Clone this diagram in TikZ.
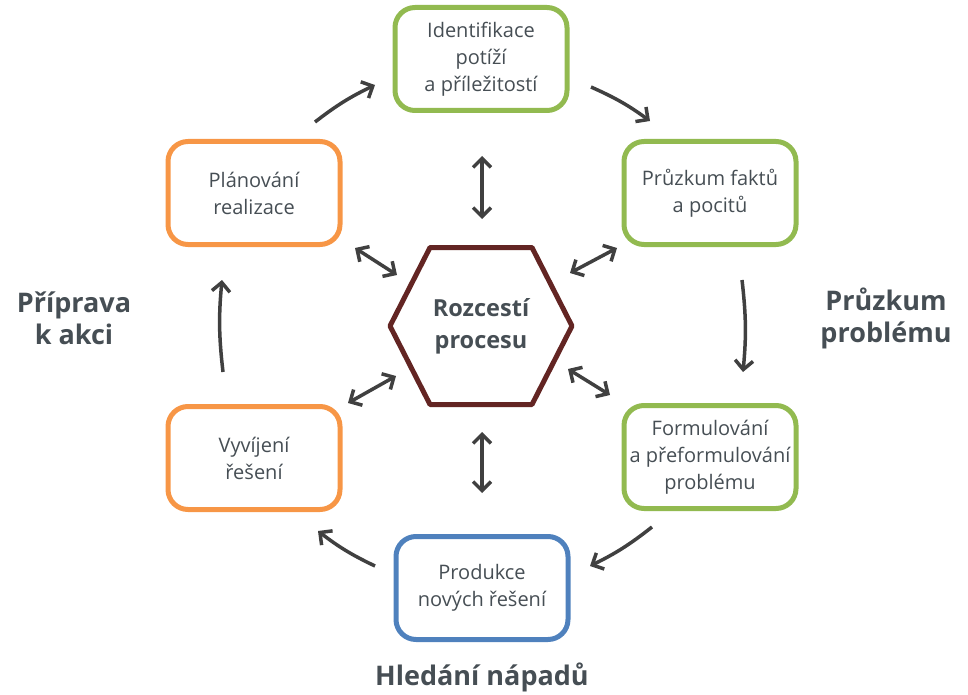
\documentclass[tikz,border=0pt]{standalone}
\usepackage{fontspec}
\setmainfont{Open Sans}
\usetikzlibrary{arrows.meta}
\definecolor{boxgreen}{RGB}{146,186,80}
\definecolor{boxorange}{RGB}{247,150,70}
\definecolor{boxblue}{RGB}{79,129,189}
\definecolor{hexred}{RGB}{99,37,35}
\definecolor{txtgray}{RGB}{70,78,84}
\definecolor{arrgray}{RGB}{64,64,64}

\begin{document}
\begin{tikzpicture}[x=1pt,y=-1pt,
  stage/.style={draw=#1,line width=5pt,rounded corners=20pt,minimum width=172pt,
    minimum height=103pt,inner sep=0pt,outer sep=0pt,align=center,text=txtgray,
    font=\fontsize{20}{27}\selectfont},
  phase/.style={text=txtgray,align=center,font=\fontsize{27}{32}\selectfont\bfseries},
  cyc/.style={draw=arrgray,line width=3.5pt,-{Straight Barb[length=9pt,width=18pt]}},
  link/.style={draw=arrgray,line width=3.5pt,{Straight Barb[length=9pt,width=18pt]}-{Straight Barb[length=9pt,width=18pt]}}]
\useasboundingbox (0,0) rectangle (968,695);
\node[stage=boxgreen] (ident) at (481,59) {Identifikace\\potíží\\a příležitostí};
\node[stage=boxgreen] (fakty) at (710,193) {Průzkum faktů\\a pocitů};
\node[stage=boxgreen] (formul) at (710,457) {Formulování\\a přeformulování\\problému};
\node[stage=boxblue] (produkce) at (482,588) {Produkce\\nových řešení};
\node[stage=boxorange] (vyvij) at (254,458) {Vyvíjení\\řešení};
\node[stage=boxorange] (plan) at (254,193) {Plánování\\realizace};
% rozcesti
\node[minimum width=182pt,minimum height=157pt,inner sep=0pt,outer sep=0pt,align=center,
  text=txtgray,font=\fontsize{23.5}{32}\selectfont\bfseries] (hub) at (481,326) {Rozcestí\\procesu};
\draw[hexred,line width=5pt,line join=round] (hub.west) -- ([xshift=-51pt]hub.north)
  -- ([xshift=51pt]hub.north) -- (hub.east) -- ([xshift=51pt]hub.south)
  -- ([xshift=-51pt]hub.south) -- cycle;
% faze
\node[phase] (pripr) at (74,318) {Příprava\\k akci};
\node[phase] (pruzk) at (886,318) {Průzkum\\problému};
\node[phase] (hled) at (482,677) {Hledání nápadů};
% cyklus
\draw[cyc] ([shift={(61,-71)}]plan.center) to[bend left=6] ([shift={(-106,26)}]ident.center);
\draw[cyc] ([shift={(110,28)}]ident.center) to[bend left=6] ([shift={(-60,-72)}]fakty.center);
\draw[cyc] ([shift={(32,87)}]fakty.center) to[bend left=6] ([shift={(33,-85)}]formul.center);
\draw[cyc] ([shift={(-58,70)}]formul.center) to[bend left=6] ([shift={(108,-22)}]produkce.center);
\draw[cyc] ([shift={(-107,-22)}]produkce.center) to[bend left=6] ([shift={(64,73)}]vyvij.center);
\draw[cyc] ([shift={(-31,-86)}]vyvij.center) to[bend left=6] ([shift={(-32,87)}]plan.center);
% vazby na rozcesti
\draw[link] ([shift={(1,97)}]ident.center) -- ([shift={(1,-107)}]hub.center);
\draw[link] ([shift={(-93,55)}]fakty.center) -- ([shift={(89,-53)}]hub.center);
\draw[link] ([shift={(-100,-62)}]formul.center) -- ([shift={(87,43)}]hub.center);
\draw[link] ([shift={(0,-95)}]produkce.center) -- ([shift={(1,106)}]hub.center);
\draw[link] ([shift={(94,-55)}]vyvij.center) -- ([shift={(-85,50)}]hub.center);
\draw[link] ([shift={(101,55)}]plan.center) -- ([shift={(-84,-51)}]hub.center);
\end{tikzpicture}
\end{document}
